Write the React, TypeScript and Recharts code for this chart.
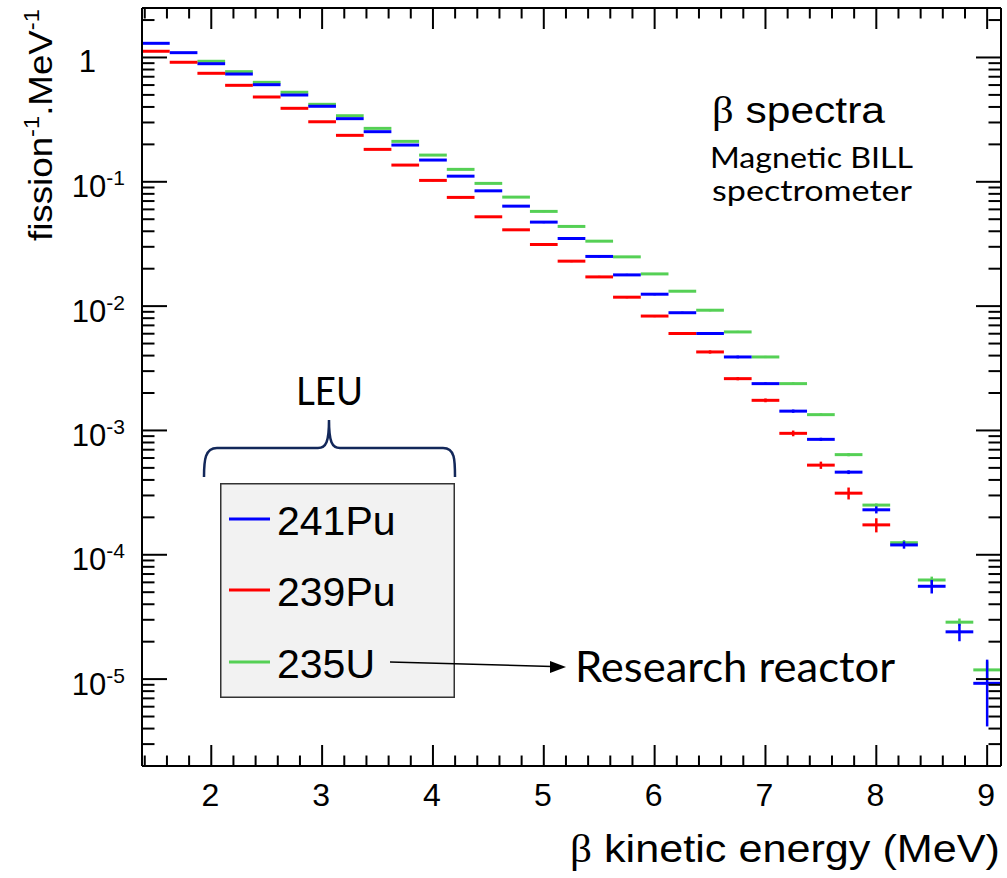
import React from "react";
import { ComposedChart, Scatter, XAxis, YAxis, ErrorBar, Legend } from "recharts";

const W = 1007;
const H = 878;

// bin centres in MeV (0.25 MeV wide bins)
const energies = [
  1.5, 1.75, 2.0, 2.25, 2.5, 2.75, 3.0, 3.25, 3.5, 3.75, 4.0, 4.25, 4.5, 4.75, 5.0, 5.25,
  5.5, 5.75, 6.0, 6.25, 6.5, 6.75, 7.0, 7.25, 7.5, 7.75, 8.0, 8.25, 8.5, 8.75, 9.0,
];
const binHalfWidth = 0.125;

// fission^-1 MeV^-1
const pu241 = [
  1.3, 1.093, 0.891, 0.736, 0.604, 0.499, 0.405, 0.322, 0.253, 0.1975, 0.1496, 0.111, 0.0846,
  0.0637, 0.0474, 0.035, 0.0251, 0.01783, 0.01247, 0.00885, 0.00602, 0.0039, 0.00238, 0.00143,
  0.000848, 0.000462, 0.00023, 0.00012, 5.58e-5, 2.4e-5, 9.25e-6,
];
const pu239 = [
  1.122, 0.915, 0.746, 0.597, 0.481, 0.39, 0.304, 0.2364, 0.1823, 0.1363, 0.1026, 0.0749, 0.0523,
  0.0411, 0.0313, 0.023, 0.01718, 0.0118, 0.00832, 0.00602, 0.00428, 0.00261, 0.001747, 0.000948,
  0.000526, 0.000313, 0.000174, null, null, null, null,
];
const u235 = [
  null, null, 0.932, 0.769, 0.631, 0.525, 0.42, 0.34, 0.269, 0.2115, 0.164, 0.1259, 0.0971,
  0.0753, 0.0578, 0.04375, 0.0333, 0.0249, 0.01816, 0.01318, 0.00927, 0.0062, 0.0039, 0.00238,
  0.00134, 0.000639, 0.000251, 0.000125, 6.27e-5, 2.87e-5, 1.186e-5,
];

// relative errors, %
const pu241Err = [
  1, 1, 1, 1, 1, 1, 1, 1, 1, 1.5, 1.5, 1.5, 1.5, 1.5, 2, 2, 2, 2, 2, 2, 2, 2.5, 2.5, 3, 3, 3.5,
  6.5, 6.7, 12.5, 16, 55,
];
const pu239Err = [
  1, 1, 1, 1, 1, 1, 1, 1, 1, 1.5, 1.5, 1.5, 1.5, 1.5, 2, 2, 2, 2, 2, 2.5, 3, 3, 3.5, 5.3, 6.7, 11,
  13, null, null, null, null,
];
const u235Err = [
  null, null, 1, 1, 1, 1, 1, 1, 1, 1, 1, 1, 1, 1, 1.5, 1.5, 1.5, 1.5, 1.5, 1.5, 2, 2, 2, 2.5, 2.5,
  3, 3, 5, 6.4, 7, 17,
];

const xMajorTicks = [2, 3, 4, 5, 6, 7, 8, 9];
const yMajorTicks = [1e-5, 1e-4, 1e-3, 1e-2, 1e-1, 1];

const xDomain = [1.375, 9.125];
const yDomain = [2e-6, 2.5];

// minor ticks every 0.2 MeV, 2..9 per decade
const xTicks = Array.from({ length: 39 }, (_, i) => +(1.4 + 0.2 * i).toFixed(1));
const yTicks: number[] = [];
for (let exp = -6; exp <= 0; exp++) {
  for (let m = 1; m <= 9; m++) {
    const v = +(m * Math.pow(10, exp)).toPrecision(3);
    if (v >= yDomain[0] && v <= yDomain[1]) yTicks.push(v);
  }
}

const series = [
  { name: "235U", values: u235, errs: u235Err, color: "#55d055" },
  { name: "241Pu", values: pu241, errs: pu241Err, color: "#0000ff" },
  { name: "239Pu", values: pu239, errs: pu239Err, color: "#ff0000" },
];
const legendOrder = ["241Pu", "239Pu", "235U"];

const ROOT_FONT = "'Liberation Sans', Arial, Helvetica, sans-serif";
const SLIDE_FONT = "Lato, 'Open Sans', sans-serif";
const SERIF = "'Liberation Serif', 'DejaVu Serif', serif";

// chart box
const MARGIN = { top: 7, right: 5, bottom: 0, left: 0 };
const Y_AXIS_W = 142;
const X_AXIS_H = 112;
const TOP_AXIS_H = 1;
const RIGHT_AXIS_W = 1;
const plot = {
  left: MARGIN.left + Y_AXIS_W,
  right: W - MARGIN.right - RIGHT_AXIS_W,
  top: MARGIN.top + TOP_AXIS_H,
  bottom: H - MARGIN.bottom - X_AXIS_H,
};
// same linear / log mapping the axes use, for the frame tick marks
const xPos = (v: number) =>
  plot.left + ((v - xDomain[0]) / (xDomain[1] - xDomain[0])) * (plot.right - plot.left);
const yPos = (v: number) =>
  plot.top +
  ((Math.log10(yDomain[1]) - Math.log10(v)) / (Math.log10(yDomain[1]) - Math.log10(yDomain[0]))) *
    (plot.bottom - plot.top);

function toPoints(values: (number | null)[], errs: (number | null)[]) {
  return energies.flatMap((e, i) => {
    const v = values[i];
    if (v == null) return [];
    return [{ e, v, dx: binHalfWidth, dy: (v * (errs[i] ?? 0)) / 100 }];
  });
}

const isMajorX = (v: number) => xMajorTicks.some((t) => Math.abs(t - v) < 1e-6);
const isMajorY = (v: number) => yMajorTicks.some((t) => Math.abs(t - v) / t < 1e-6);

function BottomLabel({ x, y, payload }: any) {
  if (!isMajorX(payload.value)) return <g />;
  return (
    <text x={Number(x) - 1} y={Number(y) + 40} textAnchor="middle" fontSize={32} fontFamily={ROOT_FONT} fill="#000">
      {payload.value}
    </text>
  );
}

function LeftLabel({ x, y, payload }: any) {
  const v = payload.value;
  if (!isMajorY(v)) return <g />;
  const exp = Math.round(Math.log10(v));
  const px = Number(x);
  const py = Number(y);
  if (exp === 0) {
    return (
      <text x={px - 46} y={py + 15} textAnchor="end" fontSize={31} fontFamily={ROOT_FONT} fill="#000">
        1
      </text>
    );
  }
  return (
    <text x={px - 17} y={py + 15.5} textAnchor="end" fontSize={31} fontFamily={ROOT_FONT} fill="#000">
      10
      <tspan dy={-12} fontSize={21}>
        {exp}
      </tspan>
    </text>
  );
}

function LegendBox({ payload }: any) {
  const items = legendOrder
    .map((n) => (payload || []).find((p: any) => p.value === n))
    .filter(Boolean);
  const rows = [36, 107, 179];
  return (
    <svg width={235} height={215} style={{ display: "block" }}>
      <rect x={0.75} y={0.75} width={233.5} height={213.5} fill="#f2f2f2" stroke="#333" strokeWidth={1.5} />
      {items.map((p: any, i: number) => (
        <g key={p.value}>
          <line x1={9} x2={50} y1={rows[i]} y2={rows[i]} stroke={p.color} strokeWidth={3} />
          <text x={57} y={rows[i] + 16} fontSize={41} fontFamily={ROOT_FONT} fill="#000">
            {p.value}
          </text>
        </g>
      ))}
    </svg>
  );
}

function FrameTicks() {
  const st = { stroke: "#000", strokeWidth: 2 };
  return (
    <g>
      {xTicks.map((t) => {
        const x = xPos(t);
        const len = isMajorX(t) ? 21 : 10.5;
        return (
          <g key={`x${t}`}>
            <line x1={x} x2={x} y1={plot.bottom} y2={plot.bottom - len} {...st} />
            <line x1={x} x2={x} y1={plot.top} y2={plot.top + len} {...st} />
          </g>
        );
      })}
      {yTicks.map((t) => {
        const y = yPos(t);
        const len = isMajorY(t) ? 25 : 12.5;
        return (
          <g key={`y${t}`}>
            <line x1={plot.left} x2={plot.left + len} y1={y} y2={y} {...st} />
            <line x1={plot.right} x2={plot.right - len} y1={y} y2={y} {...st} />
          </g>
        );
      })}
    </g>
  );
}

export default function App() {
  const axisLine = { stroke: "#000", strokeWidth: 2 };
  return (
    <div style={{ position: "absolute", left: 0, top: 0, width: W, height: H, background: "#fff" }}>
      <ComposedChart width={W} height={H} margin={MARGIN}>
        <XAxis
          xAxisId="b"
          dataKey="e"
          type="number"
          domain={xDomain}
          allowDataOverflow
          ticks={xTicks}
          interval={0}
          height={X_AXIS_H}
          tickSize={0}
          tickMargin={0}
          tickLine={false}
          axisLine={axisLine}
          tick={(p: any) => <BottomLabel {...p} />}
        />
        <XAxis
          xAxisId="t"
          dataKey="e"
          orientation="top"
          type="number"
          domain={xDomain}
          allowDataOverflow
          height={TOP_AXIS_H}
          tick={false}
          tickLine={false}
          axisLine={axisLine}
        />
        <YAxis
          yAxisId="l"
          dataKey="v"
          type="number"
          scale="log"
          domain={yDomain}
          allowDataOverflow
          ticks={yTicks}
          interval={0}
          width={Y_AXIS_W}
          tickSize={0}
          tickMargin={0}
          tickLine={false}
          axisLine={axisLine}
          tick={(p: any) => <LeftLabel {...p} />}
        />
        <YAxis
          yAxisId="r"
          dataKey="v"
          orientation="right"
          type="number"
          scale="log"
          domain={yDomain}
          allowDataOverflow
          width={RIGHT_AXIS_W}
          tick={false}
          tickLine={false}
          axisLine={axisLine}
        />
        {/* invisible item so that the frame axes (top / right) get drawn */}
        <Scatter
          data={toPoints(pu241, pu241Err)}
          dataKey="v"
          xAxisId="t"
          yAxisId="r"
          legendType="none"
          shape={() => <g />}
          isAnimationActive={false}
        />
        {series.map((s) => (
          <Scatter
            key={s.name}
            name={s.name}
            data={toPoints(s.values, s.errs)}
            dataKey="v"
            xAxisId="b"
            yAxisId="l"
            fill={s.color}
            shape={() => <g />}
            isAnimationActive={false}
          >
            <ErrorBar dataKey="dx" direction="x" width={0} stroke={s.color} strokeWidth={3} isAnimationActive={false} />
            <ErrorBar dataKey="dy" direction="y" width={0} stroke={s.color} strokeWidth={2.5} isAnimationActive={false} />
          </Scatter>
        ))}
        <Legend
          layout="vertical"
          align="center"
          verticalAlign="middle"
          content={(p: any) => <LegendBox {...p} />}
          wrapperStyle={{ left: 220, top: 483, width: 235, height: 215 }}
        />
      </ComposedChart>

      <svg
        width={W}
        height={H}
        style={{ position: "absolute", left: 0, top: 0, pointerEvents: "none" }}
      >
        <FrameTicks />

        {/* axis titles */}
        <text
          transform="translate(52,125) rotate(-90)"
          textAnchor="middle"
          fontSize={34}
          fontFamily={ROOT_FONT}
          textLength={232}
          lengthAdjust="spacingAndGlyphs"
        >
          fission
          <tspan dy={-13} fontSize={22}>-1</tspan>
          <tspan dy={13}>.MeV</tspan>
          <tspan dy={-13} fontSize={22}>-1</tspan>
        </text>
        <text
          x={1000}
          y={862}
          textAnchor="end"
          fontSize={39}
          fontFamily={ROOT_FONT}
          textLength={430}
          lengthAdjust="spacingAndGlyphs"
        >
          <tspan fontFamily={SERIF}>β</tspan> kinetic energy (MeV)
        </text>

        {/* annotations */}
        <text x={712} y={123} fontSize={37} fontFamily={ROOT_FONT} textLength={173} lengthAdjust="spacingAndGlyphs">
          <tspan fontFamily={SERIF}>β</tspan> spectra
        </text>
        <text x={710} y={168} fontSize={29} fontFamily={SLIDE_FONT} textLength={203} lengthAdjust="spacingAndGlyphs">
          Magnetic BILL
        </text>
        <text x={712} y={201} fontSize={29} fontFamily={SLIDE_FONT} textLength={200} lengthAdjust="spacingAndGlyphs">
          spectrometer
        </text>

        <text x={296} y={405} fontSize={39} fontFamily={SLIDE_FONT} textLength={67} lengthAdjust="spacingAndGlyphs">
          LEU
        </text>
        <path
          d="M204,477 C204,460 205,448 217,448 L318,448 C326,448 329,442 329,420 C329,442 332,448 340,448 L443,448 C455,448 455,460 455,477"
          fill="none"
          stroke="#13285a"
          strokeWidth={2.5}
        />

        <line x1={390} y1={662} x2={552} y2={666.5} stroke="#000" strokeWidth={1.5} />
        <polygon points="566,667 550,661 550,673" fill="#000" />
        <text x={575} y={682} fontSize={42} fontFamily={SLIDE_FONT} textLength={320} lengthAdjust="spacingAndGlyphs">
          Research reactor
        </text>
      </svg>
    </div>
  );
}
